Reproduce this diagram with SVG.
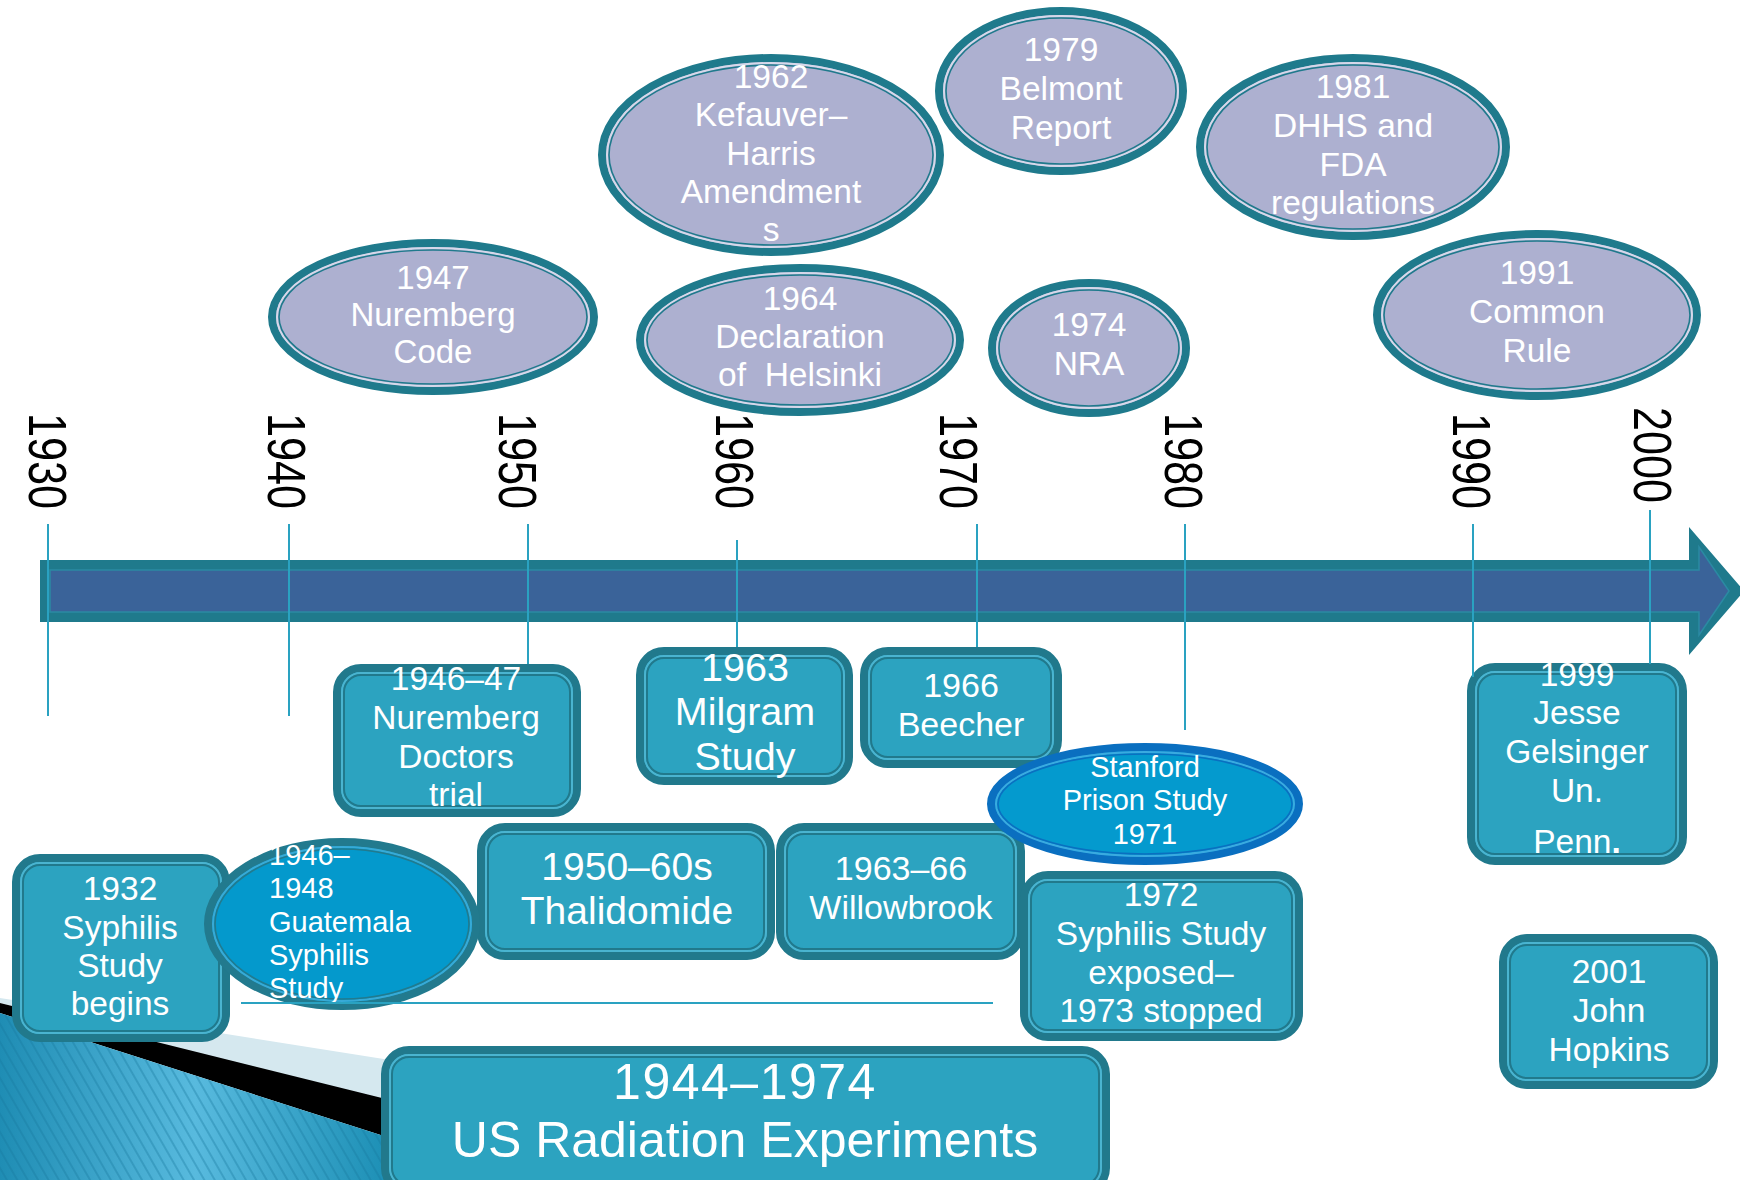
<svg xmlns="http://www.w3.org/2000/svg" width="1740" height="1180" viewBox="0 0 1740 1180">
<defs>
<style>
.t{font-family:"Liberation Sans",Arial,sans-serif;fill:#fff;text-anchor:middle}
.yr{font-family:"Liberation Sans",Arial,sans-serif;font-size:54px;fill:#000}
.tick{stroke:#2aa2c1;stroke-width:2;fill:none}
.bo{fill:#2ca3c0;stroke:#21798c;stroke-width:8}
.bl{fill:none;stroke:#4ab4d0;stroke-width:2}
.bd{fill:none;stroke:#21798c;stroke-width:2}
.eo{fill:#adb0d0;stroke:#1f7a8c;stroke-width:8}
.el{fill:none;stroke:#d6d8ea;stroke-width:2}
.ed{fill:none;stroke:#1f7a8c;stroke-width:1.6}
.go{fill:#0499cc;stroke:#227a8e;stroke-width:8}
.gl{fill:none;stroke:#38aad6;stroke-width:2}
.gd{fill:none;stroke:#227a8e;stroke-width:1.6}
.so{fill:#049ace;stroke:#0a6fc0;stroke-width:8}
.sl{fill:none;stroke:#3aaae0;stroke-width:2}
.sd{fill:none;stroke:#0a6fc0;stroke-width:1.6}
</style>
<linearGradient id="bg" x1="0" y1="0" x2="1" y2="0">
<stop offset="0" stop-color="#1f8db4"/>
<stop offset="0.5" stop-color="#58bade"/>
<stop offset="1" stop-color="#1c8fb5"/>
</linearGradient>
<pattern id="st" width="9" height="9" patternUnits="userSpaceOnUse" patternTransform="rotate(-30)">
<line x1="1" y1="0" x2="1" y2="9" stroke="#16789c" stroke-opacity="0.35" stroke-width="2"/>
</pattern>
</defs>

<g id="background">
<polygon fill="#d5e8ef" points="0,998 390,1060 390,1102 0,1003"/>
<polygon fill="#000" points="0,1003 390,1100 390,1138 0,1013"/>
<polygon fill="url(#bg)" points="0,1013 390,1138 390,1180 0,1180"/>
<polygon fill="url(#st)" points="0,1013 390,1138 390,1180 0,1180"/>
</g>

<g id="timeline">
<polygon fill="#1f7a8c" points="40,560 1689,560 1689,527 1744,591 1689,655 1689,622 40,622"/>
<polygon fill="#3a6399" stroke="#2b8aa3" stroke-width="1.5" points="50,570 1699,570 1699,547 1729,591 1699,635 1699,612 50,612"/>
</g>

<g id="years">
<text class="yr" transform="translate(28.7,413) rotate(90) scale(0.8,1)">1930</text>
<text class="yr" transform="translate(267.7,413) rotate(90) scale(0.8,1)">1940</text>
<text class="yr" transform="translate(498.7,413) rotate(90) scale(0.8,1)">1950</text>
<text class="yr" transform="translate(715.7,413) rotate(90) scale(0.8,1)">1960</text>
<text class="yr" transform="translate(939.7,413) rotate(90) scale(0.8,1)">1970</text>
<text class="yr" transform="translate(1164.7,413) rotate(90) scale(0.8,1)">1980</text>
<text class="yr" transform="translate(1452.7,413) rotate(90) scale(0.8,1)">1990</text>
<text class="yr" transform="translate(1633.7,407) rotate(90) scale(0.8,1)">2000</text>
</g>

<g id="n1947">
<ellipse class="eo" cx="433" cy="317" rx="161" ry="74"/>
<ellipse class="el" cx="433" cy="317" rx="156" ry="69"/>
<ellipse class="ed" cx="433" cy="317" rx="154" ry="67"/>
<text class="t" font-size="33"><tspan x="433" y="289">1947</tspan><tspan x="433" y="326">Nuremberg</tspan><tspan x="433" y="363">Code</tspan></text>
</g>

<g id="n1962">
<ellipse class="eo" cx="771" cy="155" rx="169" ry="97"/>
<ellipse class="el" cx="771" cy="155" rx="164" ry="92"/>
<ellipse class="ed" cx="771" cy="155" rx="162" ry="90"/>
<text class="t" font-size="33.5"><tspan x="771" y="88">1962</tspan><tspan x="771" y="126">Kefauver–</tspan><tspan x="771" y="165">Harris</tspan><tspan x="771" y="203">Amendment</tspan><tspan x="771" y="241">s</tspan></text>
</g>

<g id="n1964">
<ellipse class="eo" cx="800" cy="340" rx="160" ry="72"/>
<ellipse class="el" cx="800" cy="340" rx="155" ry="67"/>
<ellipse class="ed" cx="800" cy="340" rx="153" ry="65"/>
<text class="t" font-size="33.5" xml:space="preserve"><tspan x="800" y="310">1964</tspan><tspan x="800" y="348">Declaration</tspan><tspan x="800" y="386">of  Helsinki</tspan></text>
</g>

<g id="n1979">
<ellipse class="eo" cx="1061" cy="91" rx="122" ry="80"/>
<ellipse class="el" cx="1061" cy="91" rx="117" ry="75"/>
<ellipse class="ed" cx="1061" cy="91" rx="115" ry="73"/>
<text class="t" font-size="33.5"><tspan x="1061" y="61">1979</tspan><tspan x="1061" y="100">Belmont</tspan><tspan x="1061" y="139">Report</tspan></text>
</g>

<g id="n1981">
<ellipse class="eo" cx="1353" cy="147" rx="153" ry="89"/>
<ellipse class="el" cx="1353" cy="147" rx="148" ry="84"/>
<ellipse class="ed" cx="1353" cy="147" rx="146" ry="82"/>
<text class="t" font-size="33.5"><tspan x="1353" y="98">1981</tspan><tspan x="1353" y="137">DHHS and</tspan><tspan x="1353" y="176">FDA</tspan><tspan x="1353" y="214">regulations</tspan></text>
</g>

<g id="n1974">
<ellipse class="eo" cx="1089" cy="348" rx="97" ry="65"/>
<ellipse class="el" cx="1089" cy="348" rx="92" ry="60"/>
<ellipse class="ed" cx="1089" cy="348" rx="90" ry="58"/>
<text class="t" font-size="33.5"><tspan x="1089" y="336">1974</tspan><tspan x="1089" y="375">NRA</tspan></text>
</g>

<g id="n1991">
<ellipse class="eo" cx="1537" cy="315" rx="160" ry="81"/>
<ellipse class="el" cx="1537" cy="315" rx="155" ry="76"/>
<ellipse class="ed" cx="1537" cy="315" rx="153" ry="74"/>
<text class="t" font-size="33.5"><tspan x="1537" y="284">1991</tspan><tspan x="1537" y="323">Common</tspan><tspan x="1537" y="362">Rule</tspan></text>
</g>

<g id="n1946_47">
<rect class="bo" x="337" y="668" width="240" height="145" rx="24"/>
<rect class="bl" x="342" y="673" width="230" height="135" rx="19"/>
<rect class="bd" x="344" y="675" width="226" height="131" rx="17"/>
<text class="t" font-size="33.5"><tspan x="456" y="690">1946–47</tspan><tspan x="456" y="729">Nuremberg</tspan><tspan x="456" y="768">Doctors</tspan><tspan x="456" y="806">trial</tspan></text>
</g>

<g id="n1963">
<rect class="bo" x="640" y="651" width="209" height="130" rx="24"/>
<rect class="bl" x="645" y="656" width="199" height="120" rx="19"/>
<rect class="bd" x="647" y="658" width="195" height="116" rx="17"/>
<text class="t" font-size="39.5"><tspan x="745" y="681">1963</tspan><tspan x="745" y="725">Milgram</tspan><tspan x="745" y="770">Study</tspan></text>
</g>

<g id="n1966">
<rect class="bo" x="864" y="651" width="194" height="113" rx="24"/>
<rect class="bl" x="869" y="656" width="184" height="103" rx="19"/>
<rect class="bd" x="871" y="658" width="180" height="99" rx="17"/>
<text class="t" font-size="34"><tspan x="961" y="697">1966</tspan><tspan x="961" y="736">Beecher</tspan></text>
</g>

<g id="n1950s">
<rect class="bo" x="481" y="827" width="290" height="129" rx="24"/>
<rect class="bl" x="486" y="832" width="280" height="119" rx="19"/>
<rect class="bd" x="488" y="834" width="276" height="115" rx="17"/>
<text class="t" font-size="39"><tspan x="627" y="880">1950–60s</tspan><tspan x="627" y="924">Thalidomide</tspan></text>
</g>

<g id="n1963_66">
<rect class="bo" x="780" y="827" width="241" height="129" rx="24"/>
<rect class="bl" x="785" y="832" width="231" height="119" rx="19"/>
<rect class="bd" x="787" y="834" width="227" height="115" rx="17"/>
<text class="t" font-size="34"><tspan x="901" y="880">1963–66</tspan><tspan x="901" y="919">Willowbrook</tspan></text>
</g>

<g id="n1972">
<rect class="bo" x="1024" y="875" width="275" height="162" rx="24"/>
<rect class="bl" x="1029" y="880" width="265" height="152" rx="19"/>
<rect class="bd" x="1031" y="882" width="261" height="148" rx="17"/>
<text class="t" font-size="33.5"><tspan x="1161" y="906">1972</tspan><tspan x="1161" y="945">Syphilis Study</tspan><tspan x="1161" y="984">exposed–</tspan><tspan x="1161" y="1022">1973 stopped</tspan></text>
</g>

<g id="nStanford">
<ellipse class="so" cx="1145" cy="804" rx="154" ry="57"/>
<ellipse class="sl" cx="1145" cy="804" rx="149" ry="52"/>
<ellipse class="sd" cx="1145" cy="804" rx="147" ry="50"/>
<text class="t" font-size="29"><tspan x="1145" y="777">Stanford</tspan><tspan x="1145" y="810">Prison Study</tspan><tspan x="1145" y="844">1971</tspan></text>
</g>

<g id="n1932">
<rect class="bo" x="16" y="858" width="210" height="180" rx="24"/>
<rect class="bl" x="21" y="863" width="200" height="170" rx="19"/>
<rect class="bd" x="23" y="865" width="196" height="166" rx="17"/>
<text class="t" font-size="33.5"><tspan x="120" y="900">1932</tspan><tspan x="120" y="939">Syphilis</tspan><tspan x="120" y="977">Study</tspan><tspan x="120" y="1015">begins</tspan></text>
</g>

<g id="nGuatemala">
<ellipse class="go" cx="342" cy="924" rx="134" ry="82"/>
<ellipse class="gl" cx="342" cy="924" rx="129" ry="77"/>
<ellipse class="gd" cx="342" cy="924" rx="127" ry="75"/>
<text class="t" font-size="29" style="text-anchor:start"><tspan x="269" y="865">1946–</tspan><tspan x="269" y="898">1948</tspan><tspan x="269" y="932">Guatemala</tspan><tspan x="269" y="965">Syphilis</tspan><tspan x="269" y="998">Study</tspan></text>
</g>

<g id="nRadiation">
<rect class="bo" x="385" y="1050" width="721" height="142" rx="24"/>
<rect class="bl" x="390" y="1055" width="711" height="132" rx="19"/>
<rect class="bd" x="392" y="1057" width="707" height="128" rx="17"/>
<text class="t" font-size="50"><tspan x="745" y="1099" letter-spacing="1.5">1944–1974</tspan><tspan x="745" y="1157">US Radiation Experiments</tspan></text>
</g>

<g id="n1999">
<rect class="bo" x="1471" y="667" width="212" height="194" rx="24"/>
<rect class="bl" x="1476" y="672" width="202" height="184" rx="19"/>
<rect class="bd" x="1478" y="674" width="198" height="180" rx="17"/>
<text class="t" font-size="33.5"><tspan x="1577" y="686">1999</tspan><tspan x="1577" y="724">Jesse</tspan><tspan x="1577" y="763">Gelsinger</tspan><tspan x="1577" y="802">Un.</tspan><tspan x="1577" y="853">Penn<tspan font-weight="700">.</tspan></tspan></text>
</g>

<g id="n2001">
<rect class="bo" x="1503" y="938" width="211" height="147" rx="24"/>
<rect class="bl" x="1508" y="943" width="201" height="137" rx="19"/>
<rect class="bd" x="1510" y="945" width="197" height="133" rx="17"/>
<text class="t" font-size="33.5"><tspan x="1609" y="983">2001</tspan><tspan x="1609" y="1022">John</tspan><tspan x="1609" y="1061">Hopkins</tspan></text>
</g>

<g id="connectors">
<line class="tick" x1="48" y1="524" x2="48" y2="716"/>
<line class="tick" x1="289" y1="524" x2="289" y2="716"/>
<line class="tick" x1="528" y1="524" x2="528" y2="664"/>
<line class="tick" x1="737" y1="540" x2="737" y2="647"/>
<line class="tick" x1="977" y1="524" x2="977" y2="647"/>
<line class="tick" x1="1185" y1="524" x2="1185" y2="730"/>
<line class="tick" x1="1473" y1="524" x2="1473" y2="677"/>
<line class="tick" x1="1650" y1="510" x2="1650" y2="664"/>
<line class="tick" x1="241" y1="1003" x2="993" y2="1003"/>
</g>
</svg>
